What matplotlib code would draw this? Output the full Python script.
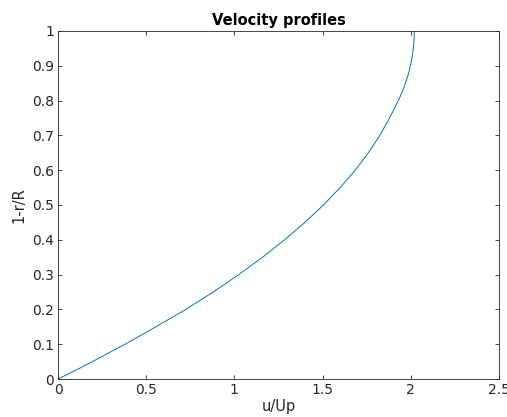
import matplotlib
matplotlib.use('Agg')
import matplotlib.pyplot as plt

# values
depth = [0.00, 0.025, 0.05, 0.10, 0.15, 0.20, 0.25, 0.30, 0.35, 0.40, 0.45, 0.50,
         0.55, 0.60, 0.65, 0.70, 0.75, 0.775, 0.80, 0.825, 0.85, 0.875, 0.90,
         0.925, 0.95, 0.975, 1.00]
u_up = [0.00, 0.10, 0.195, 0.38, 0.555, 0.725, 0.88, 1.025, 1.16, 1.285, 1.40, 1.505,
        1.60, 1.685, 1.76, 1.825, 1.88, 1.905, 1.93, 1.952, 1.97, 1.986, 1.998,
        2.008, 2.015, 2.019, 2.02]
xticks = [0, 0.5, 1, 1.5, 2, 2.5]
xticklabels = ['0', '0.5', '1', '1.5', '2', '2.5']
yticks = [0, 0.1, 0.2, 0.3, 0.4, 0.5, 0.6, 0.7, 0.8, 0.9, 1]
yticklabels = ['0', '0.1', '0.2', '0.3', '0.4', '0.5', '0.6', '0.7', '0.8', '0.9', '1']

plt.rcParams['font.family'] = ['DejaVu Sans']
axcol = '#262626'

fig = plt.figure(figsize=(5.07, 4.17), dpi=100)
ax = fig.add_axes([0.1144, 0.0911, 0.8696, 0.8346])

ax.plot(u_up, depth, color='#0072BD', linewidth=0.7, solid_joinstyle='round')

ax.set_xlim(0, 2.5)
ax.set_ylim(0, 1)
ax.set_xticks(xticks)
ax.set_xticklabels(xticklabels)
ax.set_yticks(yticks)
ax.set_yticklabels(yticklabels)
ax.tick_params(direction='in', length=3, width=0.6, colors=axcol,
               labelsize=10, top=True, right=True, pad=3)
for s in ax.spines.values():
    s.set_color(axcol)
    s.set_linewidth(0.6)

ax.set_title('Velocity profiles', fontsize=10.5, fontweight='bold', pad=4)
ax.set_xlabel('u/Up', fontsize=10.5, color=axcol, labelpad=1)
ax.set_ylabel('1-r/R', fontsize=10.5, color=axcol, labelpad=4)

fig.savefig('out.png', dpi=100)
